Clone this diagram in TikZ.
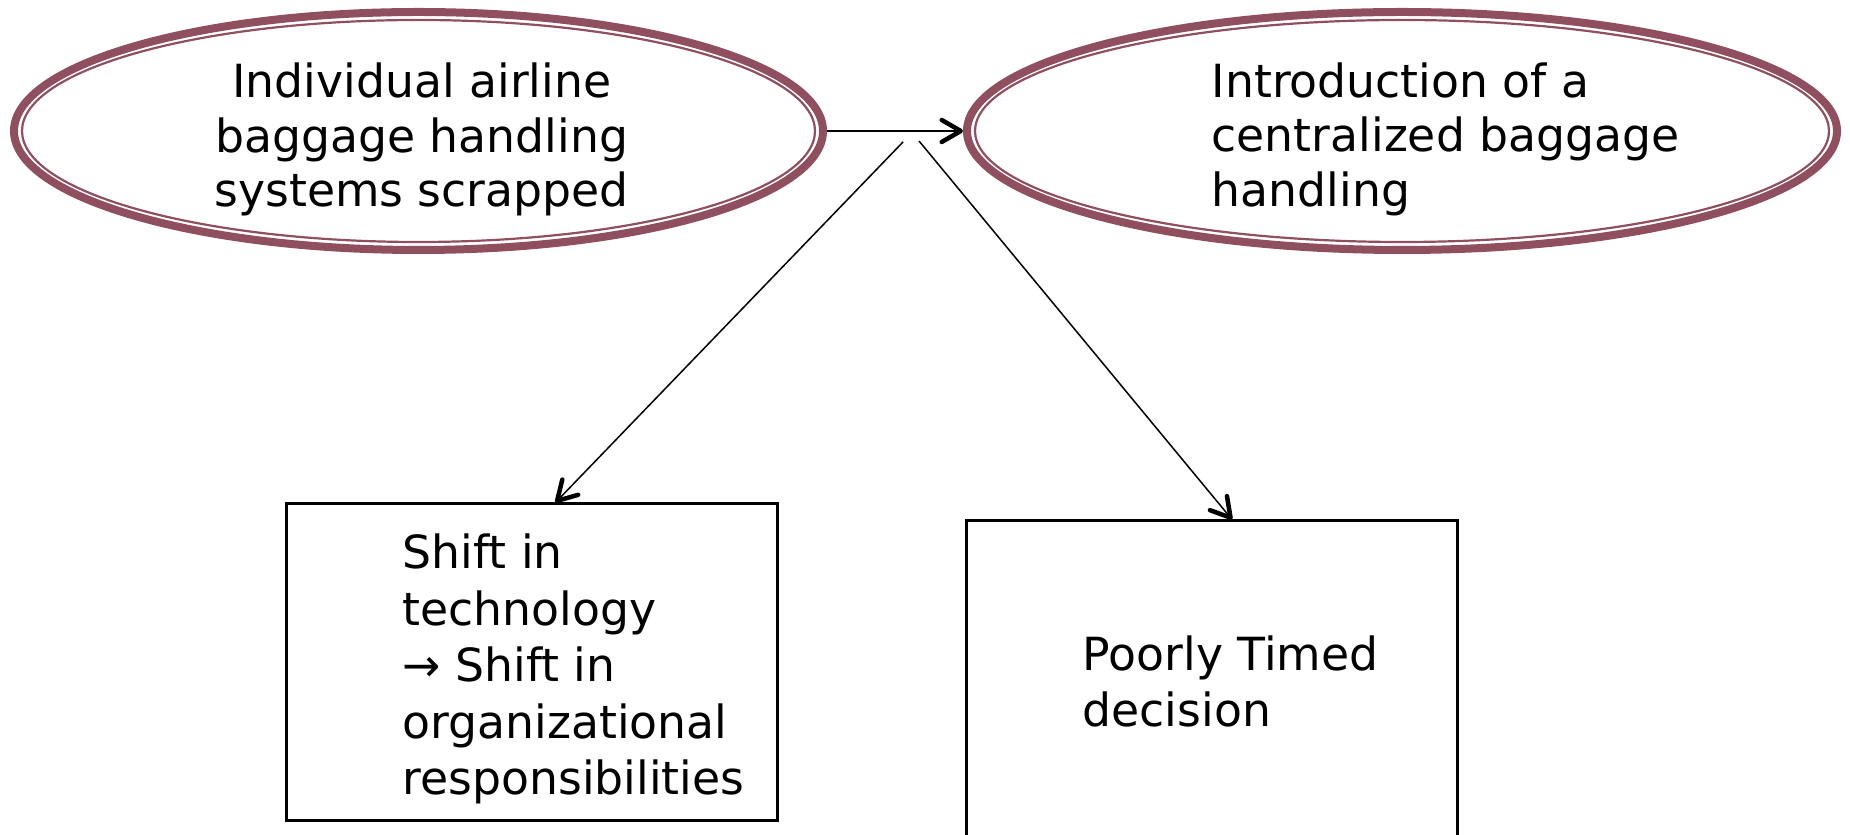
\documentclass[tikz,border=0pt]{standalone}
\usepackage{fontspec}
\setmainfont{DejaVu Sans}
\usepackage{xcolor}
\usepackage{tikz}
\usetikzlibrary{shapes,arrows.meta,positioning}
\definecolor{ringred}{RGB}{143,79,94}

\tikzset{
    oval/.style={ellipse, draw=ringred, line width=0.08cm, inner sep=0pt, minimum height=2.38cm},
    innerring/.style={draw=ringred, line width=0.022cm},
    box/.style={rectangle, draw, line width=0.03cm, inner sep=0pt, minimum width=4.91cm, minimum height=3.17cm},
    ovaltext/.style={inner sep=0pt, font=\fontsize{13}{15.6}\selectfont},
    boxtext/.style={inner sep=0pt, align=left, anchor=base west, font=\fontsize{13}{16.1}\selectfont},
    link/.style={line width=0.015cm, -{Straight Barb[length=1.9mm,width=2.2mm,line width=0.045cm,round]}}
}

\begin{document}
\begin{tikzpicture}
    \useasboundingbox (0,0) rectangle (18.5,-8.35);

    % Ovals
    \node[oval, minimum width=8.09cm] (scrapped) at (4.185,-1.31) {};
    \draw[innerring] (scrapped.center) ellipse [x radius=3.965, y radius=1.11];
    \node[oval, minimum width=8.70cm] (central) at (14.02,-1.31) {};
    \draw[innerring] (central.center) ellipse [x radius=4.27, y radius=1.11];

    \node[ovaltext, align=center, anchor=base] (scraptext) at (4.217,-2.07)
        {Individual airline\\baggage handling\\systems scrapped};
    \node[ovaltext, align=left, anchor=base west] (centraltext) at (12.11,-2.067)
        {Introduction of a\\centralized baggage\\handling};

    % Boxes
    \node[box] (shift) at (5.315,-6.625) {};
    \node[box] (timing) at (12.12,-6.795) {};

    \node[boxtext] (shifttext) at (4.02,-7.95)
        {Shift in\\technology\\→ Shift in\\organizational\\responsibilities};
    \node[boxtext] (timingtext) at (10.82,-7.27) {Poorly Timed\\decision};

    % Arrows
    \coordinate (forkl) at (9.03,-1.42);
    \coordinate (forkr) at (9.19,-1.41);
    \draw[link, line width=0.025cm] (scrapped.east) -- (central.west);
    \draw[link] (forkl) -- ([xshift=2.71cm]shift.north west);
    \draw[link] (forkr) -- ([xshift=2.67cm]timing.north west);
\end{tikzpicture}
\end{document}
